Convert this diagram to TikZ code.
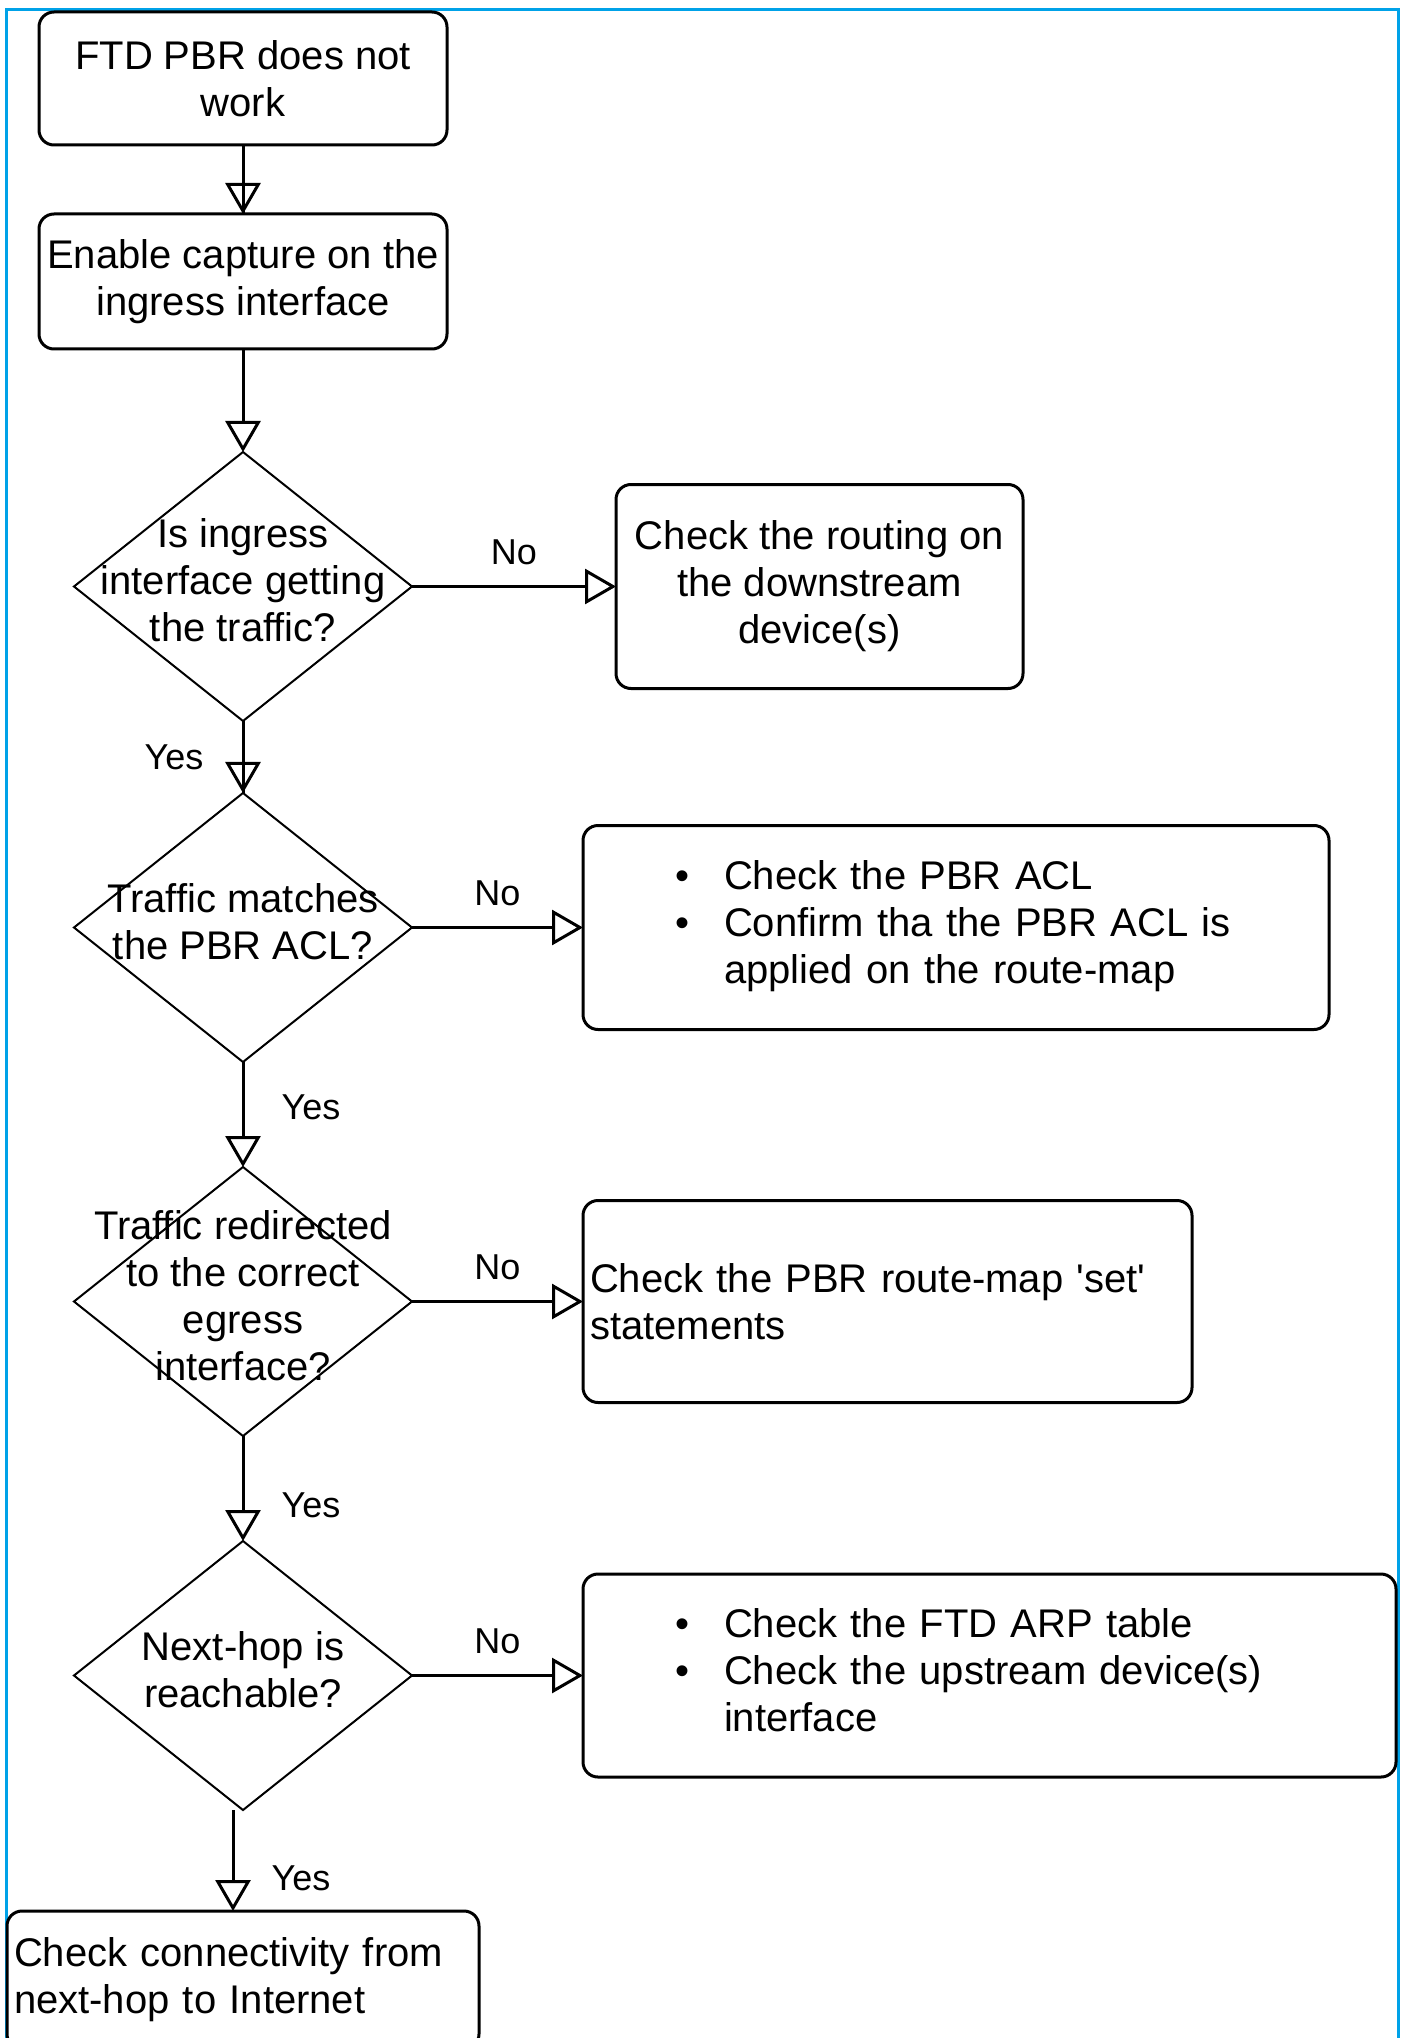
\documentclass[tikz,border=0pt]{standalone}
\usepackage{fontspec}
\setmainfont{Liberation Sans}
\usetikzlibrary{shapes.geometric,arrows.meta,positioning}
\definecolor{framecyan}{RGB}{0,162,232}

\begin{document}
\begin{tikzpicture}[
    every node/.style={font=\fontsize{20}{23.5}\selectfont},
    process/.style={rectangle, draw=black, line width=1.5pt, minimum width=204pt, minimum height=67pt, text centered, align=center, inner sep=3.5pt, outer sep=0pt, rounded corners=7.5pt},
    note/.style={process, align=left},
    bullets/.style={process, align=left, inner xsep=0pt},
    decision/.style={diamond, draw=black, line width=1pt, minimum width=169pt, minimum height=134.5pt, inner sep=0pt, outer sep=0pt},
    question/.style={align=center, inner sep=0pt, yshift=3pt},
    arrow/.style={-{Triangle[open, width=17.5pt, length=15.5pt, line width=1.5pt]}, line width=1.5pt},
    thruarrow/.style={arrow, postaction={draw, -}},
    lbl/.style={font=\fontsize{18}{21}\selectfont, inner sep=0pt}
]

% Page and frame
\useasboundingbox (0,0) rectangle (702pt,-1019pt);
\clip (0,0) rectangle (702pt,-1019pt);
\draw[framecyan, line width=1.5pt] (3pt,-1019pt) -- (3pt,-4.75pt) -- (699pt,-4.75pt) -- (699pt,-1019pt);

% Main column
\node[process, minimum height=66.5pt] (start) at (121.5pt,-39.25pt) {FTD PBR does not\\work};
\node[process, minimum height=67.5pt, below=34.5pt of start] (capture) {Enable capture on the\\ingress interface};

% Decisions
\node[decision, below=51.5pt of capture] (ingress) {};
\node[question] (ingresstxt) at (ingress) {Is ingress\\interface getting\\the traffic?};
\node[decision, below=36pt of ingress] (aclmatch) {};
\node[question] (aclmatchtxt) at (aclmatch) {Traffic matches\\the PBR ACL?};
\node[decision, below=52.5pt of aclmatch] (egress) {};
\node[question] (egresstxt) at (egress) {Traffic redirected\\to the correct\\egress\\interface?};
\node[decision, below=52.5pt of egress] (nexthop) {};
\node[question] (nexthoptxt) at (nexthop) {Next-hop is\\reachable?};

% Last step
\node[note, minimum width=236pt, minimum height=69pt, text width=229pt, below=50.5pt of nexthop] (internet) {Check connectivity from\\next-hop to Internet};

% Checks on the right
\node[process, minimum width=203.5pt, minimum height=102pt, right=102pt of ingress] (routing) {Check the routing on\\the downstream\\device(s)};
\node[bullets, minimum width=373pt, minimum height=102pt, text width=373pt, right=85.5pt of aclmatch] (aclcheck) {\hspace*{46pt}\begin{tabular}{@{}l@{\hspace{17.5pt}}l@{}}
\textbullet & Check the PBR ACL\\
\textbullet & Confirm tha the PBR ACL is\\
 & applied on the route-map
\end{tabular}};
\node[note, minimum width=304.5pt, minimum height=101pt, text width=297.5pt, right=85.5pt of egress] (setcheck) {Check the PBR route-map \textquotesingle set\textquotesingle\\statements};
\node[bullets, minimum width=406.5pt, minimum height=101.5pt, text width=406.5pt, right=85.5pt of nexthop] (arpcheck) {\hspace*{46pt}\begin{tabular}{@{}l@{\hspace{17.5pt}}l@{}}
\textbullet & Check the FTD ARP table\\
\textbullet & Check the upstream device(s)\\
 & interface
\end{tabular}};

% Flow down
\draw[thruarrow] (start) -- (capture);
\draw[arrow] (capture) -- (ingress);
\draw[thruarrow] (ingress) -- node[lbl, midway, xshift=-34.5pt] {Yes} (aclmatch);
\draw[arrow] (aclmatch) -- node[lbl, midway, xshift=34pt, yshift=3.5pt] {Yes} (egress);
\draw[arrow] (egress) -- node[lbl, midway, xshift=34pt, yshift=-8.5pt] {Yes} (nexthop);
\draw[arrow] ([xshift=-5pt]nexthop.south) -- node[lbl, midway, xshift=34pt, yshift=-9pt] {Yes} ([xshift=-5pt]nexthop.south |- internet.north);

% No branches
\draw[arrow] (ingress) -- node[lbl, midway, yshift=17pt] {No} (routing);
\draw[arrow] (aclmatch) -- node[lbl, midway, yshift=17pt] {No} (aclcheck);
\draw[arrow] (egress) -- node[lbl, midway, yshift=17pt] {No} (setcheck);
\draw[arrow] (nexthop) -- node[lbl, midway, yshift=17pt] {No} (arpcheck);

\end{tikzpicture}
\end{document}
